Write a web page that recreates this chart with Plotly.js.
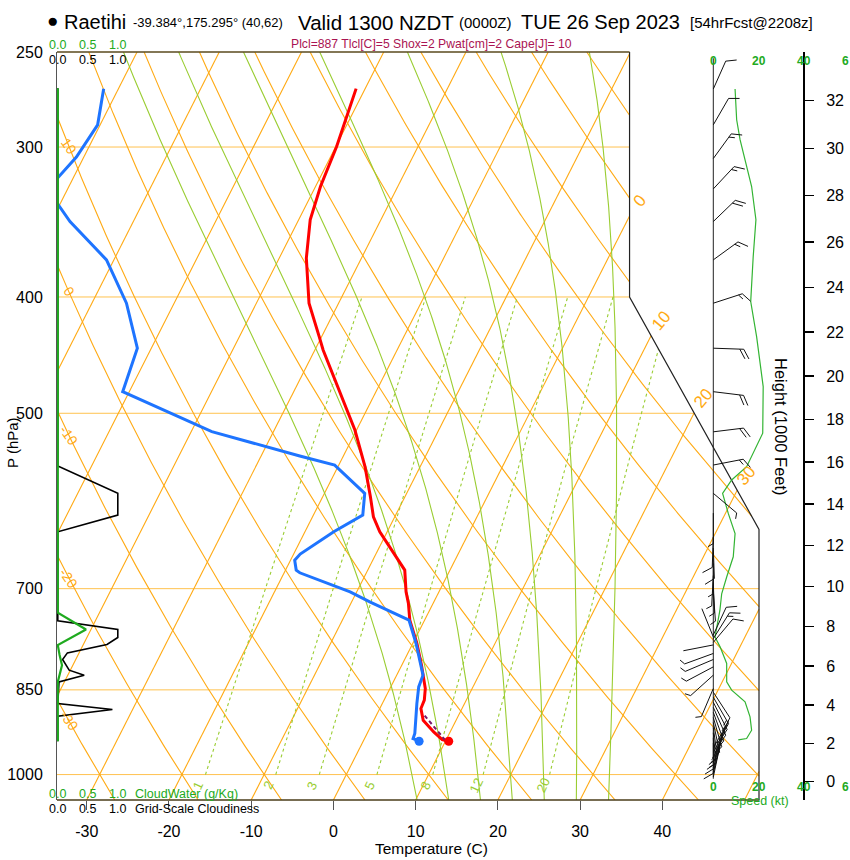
<!DOCTYPE html>
<html>
<head>
<meta charset="utf-8">
<script src="https://cdn.plot.ly/plotly-3.0.1.min.js"></script>
<style>html,body{margin:0;padding:0;background:#fff;}#chart{width:850px;height:860px;}</style>
</head>
<body>
<div id="chart"></div>
<script>
// ================= Sounding data =================
const tempP = [268.2, 299.7, 323.6, 344.9, 371.3, 404.8, 431.6, 442.8, 516.3, 554.0, 586.8, 609.8, 627.6, 658.5, 675.5, 704.3, 720.1, 743.6, 777.6, 810.7, 847.8, 867.0, 881.0, 901.0, 921.5, 935.0, 938.1];
const tempC = [-41.1, -39.9, -39.4, -38.6, -36.7, -33.6, -30.3, -29.0, -20.2, -16.7, -14.2, -12.6, -10.9, -7.3, -5.5, -4.0, -3.0, -1.8, 0.5, 2.4, 4.3, 4.9, 5.0, 6.0, 8.0, 9.5, 10.4];
const dewP = [268.2, 287.5, 305.8, 318.4, 326.0, 334.1, 346.1, 372.5, 404.8, 434.3, 441.3, 479.7, 517.9, 542.7, 552.2, 583.0, 607.8, 627.6, 655.1, 662.7, 675.5, 679.0, 704.3, 717.9, 743.6, 777.6, 810.7, 826.4, 845.2, 872.6, 924.3, 933.2, 937.6];
const dewC = [-71.8, -70.3, -70.9, -71.9, -74.0, -70.4, -67.7, -60.9, -55.8, -52.5, -51.7, -50.8, -37.5, -25.3, -20.5, -15.1, -14.0, -16.5, -19.2, -19.5, -18.7, -18.1, -10.8, -7.8, -1.9, 0.4, 2.3, 3.2, 3.4, 4.2, 5.8, 5.9, 6.8];
const sfcP = [938.1];
const sfcT = [10.4];
const sfcTd = [6.8];
const parcelP = [936.0, 890.0];
const parcelT = [9.9, 5.6];

// grid-scale cloudiness (0..1) and cloud water (g/kg)
const cloudP = [268, 553.3, 583.0, 607.8, 627.6, 744.6, 757.0, 768.7, 779.1, 791.8, 801.9, 818.5, 826.4, 837.1, 872.6, 882.7, 894.1, 938];
const cloudFrac = [0, 0, 1.0, 1.0, 0, 0, 1.0, 1.0, 0.82, 0.16, 0.08, 0.19, 0.44, 0.02, 0, 0.91, 0, 0];
const cwP = [268, 733.2, 757.0, 780.1, 795.0, 810.7, 837.1, 938];
const cwVal = [0, 0, 0.47, 0, 0.03, 0.07, 0, 0];

// wind speed profile (kt)
const windP = [268.4, 284.7, 295.8, 323.6, 344.9, 370.1, 403.5, 431.6, 475.1, 514.6, 519.5, 554.0, 568.3, 583.0, 605.9, 629.8, 658.5, 684.5, 706.9, 729.9, 753.3, 767.9, 772.7, 782.7, 808.0, 837.1, 850.5, 869.9, 895.3, 918.4, 933.2, 935.6];
const windKt = [9.6, 10.3, 11.8, 16.9, 18.8, 17.6, 16.5, 19.1, 22.0, 21.6, 21.8, 14.7, 8.1, 4.1, 6.6, 9.6, 8.8, 5.9, 3.7, 2.9, 1.5, 0.75, 1.5, 3.0, 5.9, 5.9, 8.1, 14.0, 16.2, 16.9, 14.7, 11.0];

// wind barbs: pressure (hPa), direction (deg from), speed (kt)
const barbP = [268.4, 287.5, 306.7, 325.1, 346.1, 372.5, 404.8, 441.3, 479.7, 518.1, 552.2, 583.0,
  605.5, 633.9, 647.5, 666.8, 682.5, 691.9, 702.8,
  765.0, 767.9, 770.5, 776.0,
  779.8, 792.7, 801.9, 813.3, 826.4, 847.8,
  853.8, 862.1, 870.5, 879.0, 887.3,
  896.2, 905.0, 913.9, 922.8, 931.8, 941.0,
  950.1, 959.3, 968.6, 978.0, 987.4, 997.0, 1004.7];
const barbDir = [24, 30, 36, 43, 46, 54, 72, 92, 97, 83, 79, 130,
  180, 182, 178, 180, 183, 178, 176,
  25, 338, 32, 40,
  259, 250, 247, 242, 228, 203,
  147, 150, 153, 156, 160,
  164, 168, 172, 175, 178, 180,
  30, 26, 22, 19, 16, 14, 12];
const barbSpd = [10, 10, 13, 16, 19, 17, 17, 19, 22, 22, 15, 4,
  7, 10, 9, 7, 6, 5, 4,
  10, 1, 15, 12,
  1, 5, 5, 5, 6, 7,
  12, 13, 14, 15, 16,
  16, 16, 17, 16, 15, 12,
  2, 2, 2, 2, 2, 2, 2];

// ================= Background / axis values =================
const isobars = [300, 400, 500, 700, 850, 1000];
const isotherms = [-70, -60, -50, -40, -30, -20, -10, 0, 10, 20, 30, 40, 50];
const dryAdiabats = [-30, -20, -10, 0, 10, 20, 30, 40, 50, 60, 70, 80, 90, 100, 110, 120, 130, 140, 150];
const dryLabels = [-30, -20, -10, 0, 10];
const moistAdiabats = [8, 12, 16, 20, 24, 28, 32];
const mixRatios = [1, 2, 3, 5, 8, 12, 20];
const tempTicks = [-30, -20, -10, 0, 10, 20, 30, 40];
const presTicks = [250, 300, 400, 500, 700, 850, 1000];
const heightTicks = [0, 2, 4, 6, 8, 10, 12, 14, 16, 18, 20, 22, 24, 26, 28, 30, 32];
const windTicks = [0, 20, 40];
const windTickCut = '6';   // the "60" label is cut by the picture edge in the reference
const cloudTicks = [0.0, 0.5, 1.0];
const isoLabels = ['0', '10', '20', '30'];

// ================= Geometry =================
const FONT = 'Liberation Sans, Arial, Helvetica, sans-serif';
const W = 850, H = 860, ML = 57, MR = 0, MT = 52, MB = 60;
const PW = W - ML - MR, PH = H - MT - MB;
const PB = 1050, PTOP = 250, K = 32.137;
const XL = -33.615, XR = 51.755;
const PXC = 702 / (XR - XL);           // px per deg C
const XDOM = 705 / PW;                  // main x domain end fraction
const XAXR = XL + 705 / PXC;
const PX_PER_LN = PH / Math.log(PB / PTOP);
const KT0 = 713.3, PX_PER_KT = 2.2675;

const px = v => (v - ML) / PW;
const py = v => (H - MB - v) / PH;
const sx = (T, p) => T + K * Math.log(PB / p);

function inside(X, p) {
  if (p > PB + 1e-6 || p < PTOP - 1e-6) return false;
  const xn = 0.54 * X - 0.8476, yn = 132.182 - 44.061 * Math.log10(p);
  if (xn < -19 - 1e-6) return false;
  const r = yn <= 9 ? 27.1 : (yn <= 17.53 ? 27.1 - (yn - 9) * (8.5 / 8.53) : 18.6);
  return xn <= r + 1e-6;
}
function clipPolyline(X, P, outX, outP) {
  let prevIn = false;
  for (let i = 0; i < X.length; i++) {
    const ins = inside(X[i], P[i]);
    if (i > 0 && ins !== prevIn) {
      let a = 0, b = 1;
      const x0 = X[i-1], x1 = X[i], l0 = Math.log(P[i-1]), l1 = Math.log(P[i]);
      for (let k = 0; k < 40; k++) {
        const m = (a + b) / 2;
        if (inside(x0 + (x1 - x0) * m, Math.exp(l0 + (l1 - l0) * m)) === prevIn) a = m; else b = m;
      }
      const m = prevIn ? a : b;
      outX.push(x0 + (x1 - x0) * m); outP.push(Math.exp(l0 + (l1 - l0) * m));
      if (prevIn) { outX.push(null); outP.push(null); }
    }
    if (ins) { outX.push(X[i]); outP.push(P[i]); }
    prevIn = ins;
  }
  outX.push(null); outP.push(null);
}
function pSeq(p0, p1, n) { const a = []; for (let i = 0; i <= n; i++) a.push(p0 * Math.pow(p1 / p0, i / n)); return a; }

// isobars
const ibX = [], ibP = [];
isobars.forEach(p => { const xs = [], ps = []; for (let i = 0; i <= 200; i++) { xs.push(XL + (60 - XL) * i / 200); ps.push(p); } clipPolyline(xs, ps, ibX, ibP); });
// isotherms
const itX = [], itP = [];
isotherms.forEach(T => { const ps = pSeq(PB, PTOP, 300); clipPolyline(ps.map(p => sx(T, p)), ps, itX, itP); });
// dry adiabats
const daX = [], daP = [];
const thT = (th, p) => (th + 273.15) * Math.pow(p / 1000, 0.2857) - 273.15;
dryAdiabats.forEach(th => { const ps = pSeq(PB, PTOP, 300); clipPolyline(ps.map(p => sx(thT(th, p), p)), ps, daX, daP); });
// moist adiabats (pseudo-adiabatic integration)
function es(T) { return 6.112 * Math.exp(17.67 * T / (T + 243.5)); }
function mrate(T, l) { const p = Math.exp(l), Tk = T + 273.15, e = es(T), rs = 0.622 * e / (p - e);
  return (287.04 * Tk + 2.501e6 * rs) / (1005.7 + 2.501e6 * 2.501e6 * rs * 0.622 / (287.04 * Tk * Tk)); }
function rk(T, l, h) { const k1 = mrate(T, l), k2 = mrate(T + h/2*k1, l + h/2), k3 = mrate(T + h/2*k2, l + h/2), k4 = mrate(T + h*k3, l + h);
  return T + h/6*(k1 + 2*k2 + 2*k3 + k4); }
const maX = [], maP = [];
moistAdiabats.forEach(tw => {
  const h = 0.004; const down = [], up = [];
  let T = tw, l = Math.log(1000);
  while (l < Math.log(PB) - 1e-9) { const hh = Math.min(h, Math.log(PB) - l); T = rk(T, l, hh); l += hh; down.push([l, T]); }
  T = tw; l = Math.log(1000); up.push([l, T]);
  while (l > Math.log(PTOP) + 1e-9) { const hh = Math.min(h, l - Math.log(PTOP)); T = rk(T, l, -hh); l -= hh; up.push([l, T]); }
  const pts = down.reverse().concat(up);
  const ps = pts.map(q => Math.exp(q[0]));
  clipPolyline(pts.map((q, i) => sx(q[1], ps[i])), ps, maX, maP);
});
// mixing ratio lines 1000 -> 400 hPa
const mrT = (w, p) => { const e = w * p / (622 + w); const a = Math.log(e / 6.112); return 243.5 * a / (17.67 - a); };
const mrX = [], mrP = [];
mixRatios.forEach(w => { const ps = pSeq(1000, 400, 100); clipPolyline(ps.map(p => sx(mrT(w, p), p)), ps, mrX, mrP); });

// outline (right boundary)
const pAt = yn => Math.pow(10, (132.182 - yn) / 44.061);
const xnToX = xn => (xn + 0.8476) / 0.54;
const bdX = [xnToX(27.1), xnToX(27.1), xnToX(18.6), xnToX(18.6)];
const bdP = [PB, pAt(9.0), pAt(17.53), PTOP];

// wind barbs
const SHAFT = 30.5, FULL = 11, HALF = 6, GAP = 4, FANG = 60 * Math.PI / 180;
const wbX = [], wbP = [];
function seg(p0, x0, y0, x1, y1) {
  wbX.push(x0 / PX_PER_KT, x1 / PX_PER_KT, null);
  wbP.push(p0 * Math.exp(y0 / PX_PER_LN), p0 * Math.exp(y1 / PX_PER_LN), null);
}
barbP.forEach((p0, i) => {
  const d = barbDir[i] * Math.PI / 180, s = barbSpd[i];
  const ux = Math.sin(d), uy = -Math.cos(d);
  const tx = SHAFT * ux, ty = SHAFT * uy;
  seg(p0, 0, 0, tx, ty);
  const fx = ux * Math.cos(FANG) - uy * Math.sin(FANG);
  const fy = ux * Math.sin(FANG) + uy * Math.cos(FANG);
  const r = Math.round(s / 5) * 5;
  const nFull = Math.floor(r / 10), half = (r % 10) === 5;
  let k = 0;
  for (; k < nFull; k++) { const ox = tx - ux * GAP * k, oy = ty - uy * GAP * k; seg(p0, ox, oy, ox + fx * FULL, oy + fy * FULL); }
  if (half) { const ox = tx - ux * GAP * k, oy = ty - uy * GAP * k; seg(p0, ox, oy, ox + fx * HALF, oy + fy * HALF); }
});

// height axis (standard atmosphere)
const heightP = heightTicks.map(k => 1013.25 * Math.pow(1 - 2.25577e-5 * k * 304.8, 5.25588));

const base = { type: 'scatter', mode: 'lines', hoverinfo: 'skip', showlegend: false };
const L = (o) => Object.assign({}, base, o);
const traces = [
  L({ x: ibX, y: ibP, line: { color: '#FFC24F', width: 1 } }),
  L({ x: itX, y: itP, line: { color: '#FFAA14', width: 1.1 } }),
  L({ x: daX, y: daP, line: { color: '#FFAA14', width: 1.1 } }),
  L({ x: maX, y: maP, line: { color: '#9ACD32', width: 1.1 } }),
  L({ x: mrX, y: mrP, line: { color: '#9ACD32', width: 1.1, dash: '3px,3px' } }),
  L({ x: bdX, y: bdP, line: { color: '#222', width: 1.2 } }),
  L({ x: cloudFrac, y: cloudP, xaxis: 'x3', line: { color: '#000', width: 1.6 } }),
  L({ x: cwVal, y: cwP, xaxis: 'x3', line: { color: '#1FAA1F', width: 2.2 } }),
  L({ x: tempP.map((p, i) => sx(tempC[i], p)), y: tempP, line: { color: '#FF0000', width: 3 } }),
  L({ x: dewP.map((p, i) => sx(dewC[i], p)), y: dewP, line: { color: '#1E74FF', width: 3 } }),
  L({ x: parcelP.map((p, i) => sx(parcelT[i], p)), y: parcelP, line: { color: '#7A1A6A', width: 2, dash: '4px,3px' } }),
  L({ mode: 'markers', x: sfcP.map((p, i) => sx(sfcTd[i], p)), y: sfcP, marker: { color: '#1E74FF', size: 9 } }),
  L({ mode: 'markers', x: sfcP.map((p, i) => sx(sfcT[i], p)), y: sfcP, marker: { color: '#FF0000', size: 9 } }),
  L({ x: [0, 0], y: [1008, 253], xaxis: 'x2', line: { color: '#222', width: 1 } }),
  L({ x: windKt, y: windP, xaxis: 'x2', line: { color: '#33B433', width: 1.2 } }),
  L({ x: wbX, y: wbP, xaxis: 'x2', line: { color: '#111', width: 1 } }),
  L({ mode: 'markers', x: [0], y: [1000], yaxis: 'y2', marker: { opacity: 0, size: 1 } })
];

const ann = [];
function A(text, x, y, size, color, extra) {
  ann.push(Object.assign({ text: text, xref: 'paper', yref: 'paper', x: px(x), y: py(y), showarrow: false,
    font: { family: FONT, size: size, color: color || '#000' }, xanchor: 'center', yanchor: 'middle' }, extra || {}));
}
// header
A('●', 52, 21, 19, '#000');
A('Raetihi', 62, 22, 20, '#000', { xanchor: 'left' });
A('-39.384°,175.295° (40,62)', 131, 23, 13, '#000', { xanchor: 'left' });
A('Valid 1300 NZDT', 296, 22, 20.5, '#000', { xanchor: 'left' });
A('(0000Z)', 457, 23, 15, '#000', { xanchor: 'left' });
A('TUE 26 Sep 2023', 519, 22, 20, '#000', { xanchor: 'left' });
A('[54hrFcst@2208z]', 688, 23, 15, '#000', { xanchor: 'left' });
A('Plcl=887 Tlcl[C]=5 Shox=2 Pwat[cm]=2 Cape[J]= 10', 431, 44, 12.2, '#AA1452');
// cloud scale labels
cloudTicks.forEach((v, i) => {
  const x = 57 + v * 60;
  A(v.toFixed(1), x, 45.5, 12.5, '#22AA22');
  A(v.toFixed(1), x, 60.5, 12.5, '#000');
  A(v.toFixed(1), x, 794, 12.5, '#22AA22');
  A(v.toFixed(1), x, 809, 12.5, '#000');
});
A('CloudWater (g/Kg)', 133, 794, 12.5, '#22AA22', { xanchor: 'left' });
A('Grid-Scale Cloudiness', 133, 809, 12.5, '#000', { xanchor: 'left' });
// wind speed scale labels
windTicks.forEach(v => {
  const x = KT0 + v * PX_PER_KT;
  A('<b>' + v + '</b>', x, 61, 12, '#22AA22');
  A('<b>' + v + '</b>', x, 787, 12, '#22AA22');
});
A('<b>' + windTickCut + '</b>', 845, 61, 12, '#22AA22');
A('<b>' + windTickCut + '</b>', 845, 787, 12, '#22AA22');
A('Speed (kt)', 760, 801, 12.5, '#22AA22');
// axis titles
A('P (hPa)', 12, 443, 15, '#000', { textangle: -90 });
A('Temperature (C)', 431, 848, 15.5, '#000');
A('Height (1000 Feet)', 781, 427, 16.5, '#000', { textangle: 90 });
// isotherm labels along the right boundary
[[639, 201], [661.7, 320.8], [703, 398.5], [746.7, 475.8]].forEach((q, i) => A(isoLabels[i], q[0], q[1], 17, '#FFAA14', { textangle: -50 }));
// dry adiabat labels on the left
const XLAB = -32.2;
dryLabels.forEach(th => {
  let a = PTOP, b = PB;
  for (let k = 0; k < 50; k++) { const m = Math.sqrt(a * b); if (sx(thT(th, m), m) < XLAB) a = m; else b = m; }
  ann.push({ text: String(th), xref: 'x', yref: 'y', x: XLAB, y: Math.log10(a), showarrow: false, textangle: 55,
    font: { family: FONT, size: 14, color: '#FFAA14' }, xanchor: 'center', yanchor: 'middle' });
});
// mixing ratio labels
mixRatios.forEach(w => {
  const p = 1021;
  ann.push({ text: String(w), xref: 'x', yref: 'y', x: sx(mrT(w, p), p) - 0.5, y: Math.log10(p), showarrow: false, textangle: -65,
    font: { family: FONT, size: 13, color: '#9ACD32' }, xanchor: 'center', yanchor: 'middle' });
});

const layout = {
  width: W, height: H,
  margin: { l: ML, r: MR, t: MT, b: MB, pad: 0 },
  paper_bgcolor: '#fff', plot_bgcolor: 'rgba(0,0,0,0)',
  showlegend: false, hovermode: false,
  font: { family: FONT, color: '#000' },
  xaxis: { domain: [0, XDOM], range: [XL, XAXR], anchor: 'y', tickmode: 'array', tickvals: tempTicks, ticktext: tempTicks.map(String),
    ticks: 'outside', ticklen: 9, tickwidth: 1, tickcolor: '#555', showline: false, showgrid: false, zeroline: false,
    tickfont: { family: FONT, size: 16, color: '#000' }, ticklabelstandoff: 8 },
  xaxis2: { domain: [0, 1], anchor: 'y', range: [(ML - KT0) / PX_PER_KT, (W - KT0) / PX_PER_KT], visible: false, showgrid: false, zeroline: false },
  xaxis3: { overlaying: 'x', anchor: 'y', range: [-0.8 / 60, 704.2 / 60], visible: false, showgrid: false, zeroline: false },
  yaxis: { type: 'log', domain: [0, 1], range: [Math.log10(PB), Math.log10(PTOP)], anchor: 'x', tickmode: 'array', tickvals: presTicks, ticktext: presTicks.map(String),
    ticks: 'outside', ticklen: 10, tickcolor: 'rgba(0,0,0,0)', showline: true, linecolor: '#555', linewidth: 1, showgrid: false, zeroline: false,
    tickfont: { family: FONT, size: 16, color: '#000' } },
  yaxis2: { type: 'log', overlaying: 'y', anchor: 'free', position: (804 - ML) / PW, side: 'right', range: [Math.log10(PB), Math.log10(PTOP)],
    tickmode: 'array', tickvals: heightP, ticktext: heightTicks.map(String), ticks: 'outside', ticklen: 9, tickwidth: 1.5, tickcolor: '#000',
    showline: true, linecolor: '#000', linewidth: 2, showgrid: false, zeroline: false, tickfont: { family: FONT, size: 16, color: '#000' }, ticklabelstandoff: 9 },
  shapes: [
    { type: 'line', xref: 'x', yref: 'paper', x0: XL, x1: xnToX(18.6), y0: 1, y1: 1, line: { color: '#5A4A1E', width: 1.5 } },
    { type: 'line', xref: 'x', yref: 'paper', x0: XL, x1: XR, y0: 0, y1: 0, line: { color: '#4A3C18', width: 1.5 } }
  ],
  annotations: ann
};
Plotly.newPlot('chart', traces, layout, { staticPlot: true, displayModeBar: false });
</script>
</body>
</html>
